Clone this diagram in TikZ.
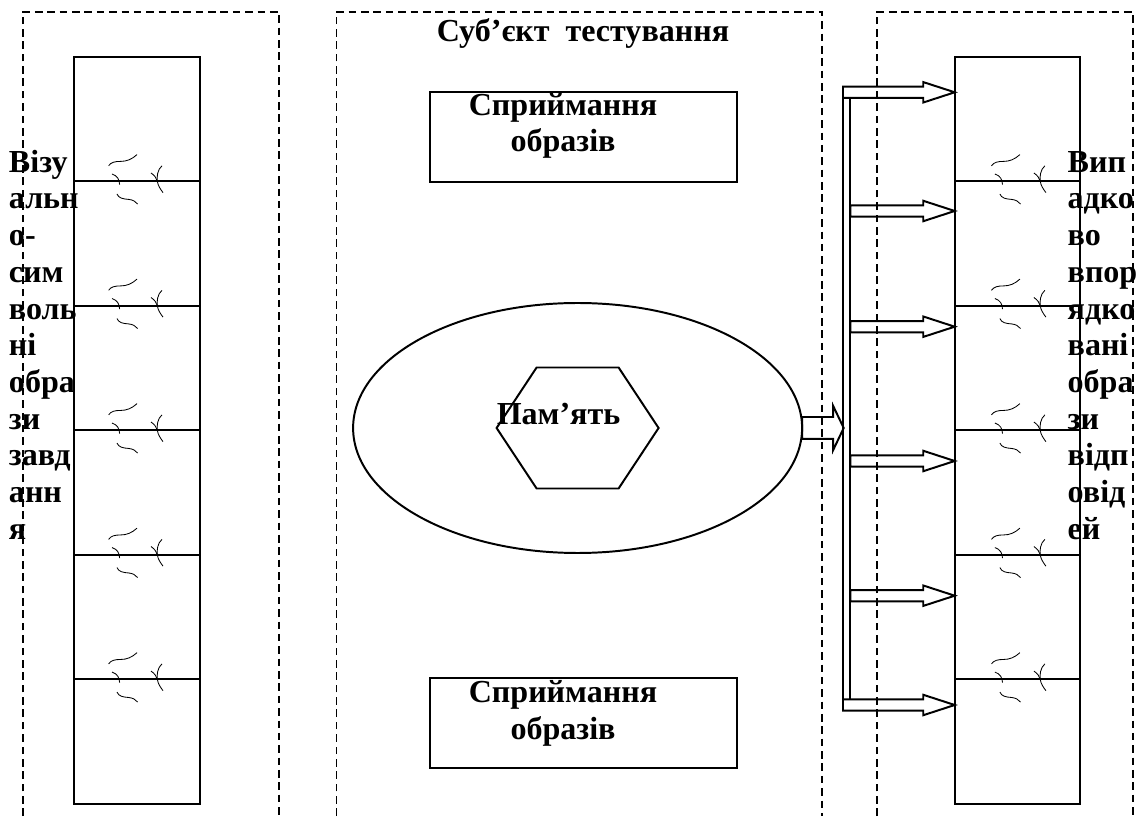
\documentclass[tikz,border=0pt]{standalone}
\usepackage{fontspec}
\setmainfont{Liberation Serif}
\usetikzlibrary{shapes.geometric,shapes.arrows}

\begin{document}
\begin{tikzpicture}
                        [line width=1.4pt,
                        zone/.style = {dash pattern=on 5.4pt off 3.4pt},
                        cell/.style = {rectangle, draw, inner sep=0pt, outer sep=0pt,
                                    minimum width=3.14cm, minimum height=3.113cm},
                        percbox/.style = {rectangle, draw, inner sep=0pt, outer sep=0pt,
                                    minimum width=7.675cm, minimum height=2.25cm},
                        words/.style = {font=\fontsize{22.8}{26.1}\selectfont\bfseries,
                                    inner sep=0pt},
                        feed/.style = {single arrow, draw, inner xsep=0pt, inner ysep=0.116cm,
                                    outer sep=0pt, single arrow head extend=0.115cm,
                                    single arrow tip angle=36, anchor=tip},
                        brk/.pic = {
                            \draw[line width=0.6pt] (0,0.39) .. controls (0.06,0.48) and (0.16,0.5) .. (0.3,0.5)
                                .. controls (0.45,0.5) and (0.58,0.55) .. (0.71,0.67);
                            \draw[line width=0.6pt] (0.085,0.185) .. controls (0.22,0.14) and (0.27,0.05) .. (0.275,-0.08);
                            \draw[line width=0.6pt] (0.21,-0.315) .. controls (0.25,-0.42) and (0.36,-0.44) .. (0.5,-0.45)
                                .. controls (0.6,-0.46) and (0.68,-0.5) .. (0.725,-0.565);
                            \draw[line width=0.6pt] (1.335,0.39) .. controls (1.22,0.3) and (1.2,0.1) .. (1.22,0)
                                .. controls (1.23,-0.1) and (1.3,-0.2) .. (1.36,-0.28);
                            \draw[line width=0.6pt] (1.06,0.21) .. controls (1.15,0.15) and (1.2,0.08) .. (1.22,0);
                        }]
                        \useasboundingbox (0,0) rectangle (28.425,20.4);
                        % dashed zones
                        \draw[zone] (0.5675,0) -- (0.5675,20.1075) -- (6.9675,20.1075) -- (6.9675,0);
                        \draw[zone] (8.4125,0) -- (8.4125,20.1075) -- (20.5425,20.1075) -- (20.5425,0);
                        \draw[zone] (21.9175,0) -- (21.9175,20.1075) -- (28.3175,20.1075) -- (28.3175,0);
                        % left column
                        \node[cell] (L1) at (3.425,17.4215) {};
                        \node[cell] (L2) at (3.425,14.3085) {};
                        \node[cell] (L3) at (3.425,11.1955) {};
                        \node[cell] (L4) at (3.425,8.0825) {};
                        \node[cell] (L5) at (3.425,4.9695) {};
                        \node[cell] (L6) at (3.425,1.8565) {};
                        \pic at ([xshift=0.86cm]L1.south west) {brk};
                        \pic at ([xshift=0.86cm]L2.south west) {brk};
                        \pic at ([xshift=0.86cm]L3.south west) {brk};
                        \pic at ([xshift=0.86cm]L4.south west) {brk};
                        \pic at ([xshift=0.86cm]L5.south west) {brk};
                        % right column
                        \node[cell] (R1) at (25.4375,17.4215) {};
                        \node[cell] (R2) at (25.4375,14.3085) {};
                        \node[cell] (R3) at (25.4375,11.1955) {};
                        \node[cell] (R4) at (25.4375,8.0825) {};
                        \node[cell] (R5) at (25.4375,4.9695) {};
                        \node[cell] (R6) at (25.4375,1.8565) {};
                        \pic at ([xshift=0.92cm]R1.south west) {brk};
                        \pic at ([xshift=0.92cm]R2.south west) {brk};
                        \pic at ([xshift=0.92cm]R3.south west) {brk};
                        \pic at ([xshift=0.92cm]R4.south west) {brk};
                        \pic at ([xshift=0.92cm]R5.south west) {brk};
                        % subject
                        \node[words,anchor=base] (subj) at (14.575,19.3575) {Суб’єкт~~тестування};
                        \node[percbox] (percA) at (14.5875,16.975) {};
                        \node[percbox] (percB) at (14.5875,2.325) {};
                        \node[words,align=center,anchor=base] (percAtxt) at (14.075,16.6075) {Сприймання\\образів};
                        \node[words,align=center,anchor=base] (percBtxt) at (14.075,1.9175) {Сприймання\\образів};
                        \node[ellipse,draw,inner sep=0pt,outer sep=0pt,
                              minimum width=11.225cm,minimum height=6.25cm] (mem) at (14.44,9.7) {};
                        \draw (12.415,9.7) -- (13.415,11.2125) -- (15.465,11.2125) -- (16.465,9.7)
                              -- (15.465,8.1875) -- (13.415,8.1875) -- cycle;
                        \node[words,anchor=base] (memtxt) at (13.9625,9.7875) {Пам’ять};
                        % output bus
                        \node[feed,anchor=tail,minimum height=1.04cm,inner ysep=0.25cm,
                              single arrow head extend=0.279cm,single arrow tip angle=129] (memout) at (mem.east) {};
                        \node[feed,minimum height=2.7925cm] (feedA) at (23.8675,18.0925) {};
                        \node[feed,minimum height=2.6075cm] (feedB) at (23.8675,15.125) {};
                        \node[feed,minimum height=2.6075cm] (feedC) at (23.8675,12.2325) {};
                        \node[feed,minimum height=2.6075cm] (feedD) at (23.8675,8.875) {};
                        \node[feed,minimum height=2.6075cm] (feedE) at (23.8675,5.5075) {};
                        \node[feed,minimum height=2.7925cm] (feedF) at (23.8675,2.775) {};
                        \draw ([yshift=0.116cm]feedA.tail) -- ([yshift=-0.116cm]feedF.tail);
                        \draw ([shift={(0.185,-0.116)}]feedA.tail) -- ([shift={(0.185,0.116)}]feedF.tail);
                        % side labels
                        \node[words,align=left,anchor=base west] (vis) at (0.2,6.92)
                              {Візу\\альн\\о-\\сим\\воль\\ні\\обра\\зи\\завд\\анн\\я};
                        \node[words,align=left,anchor=base west] (vip) at (26.6675,6.92)
                              {Вип\\адко\\во\\впор\\ядко\\вані\\обра\\зи\\відп\\овід\\ей};
                    \end{tikzpicture}
\end{document}
